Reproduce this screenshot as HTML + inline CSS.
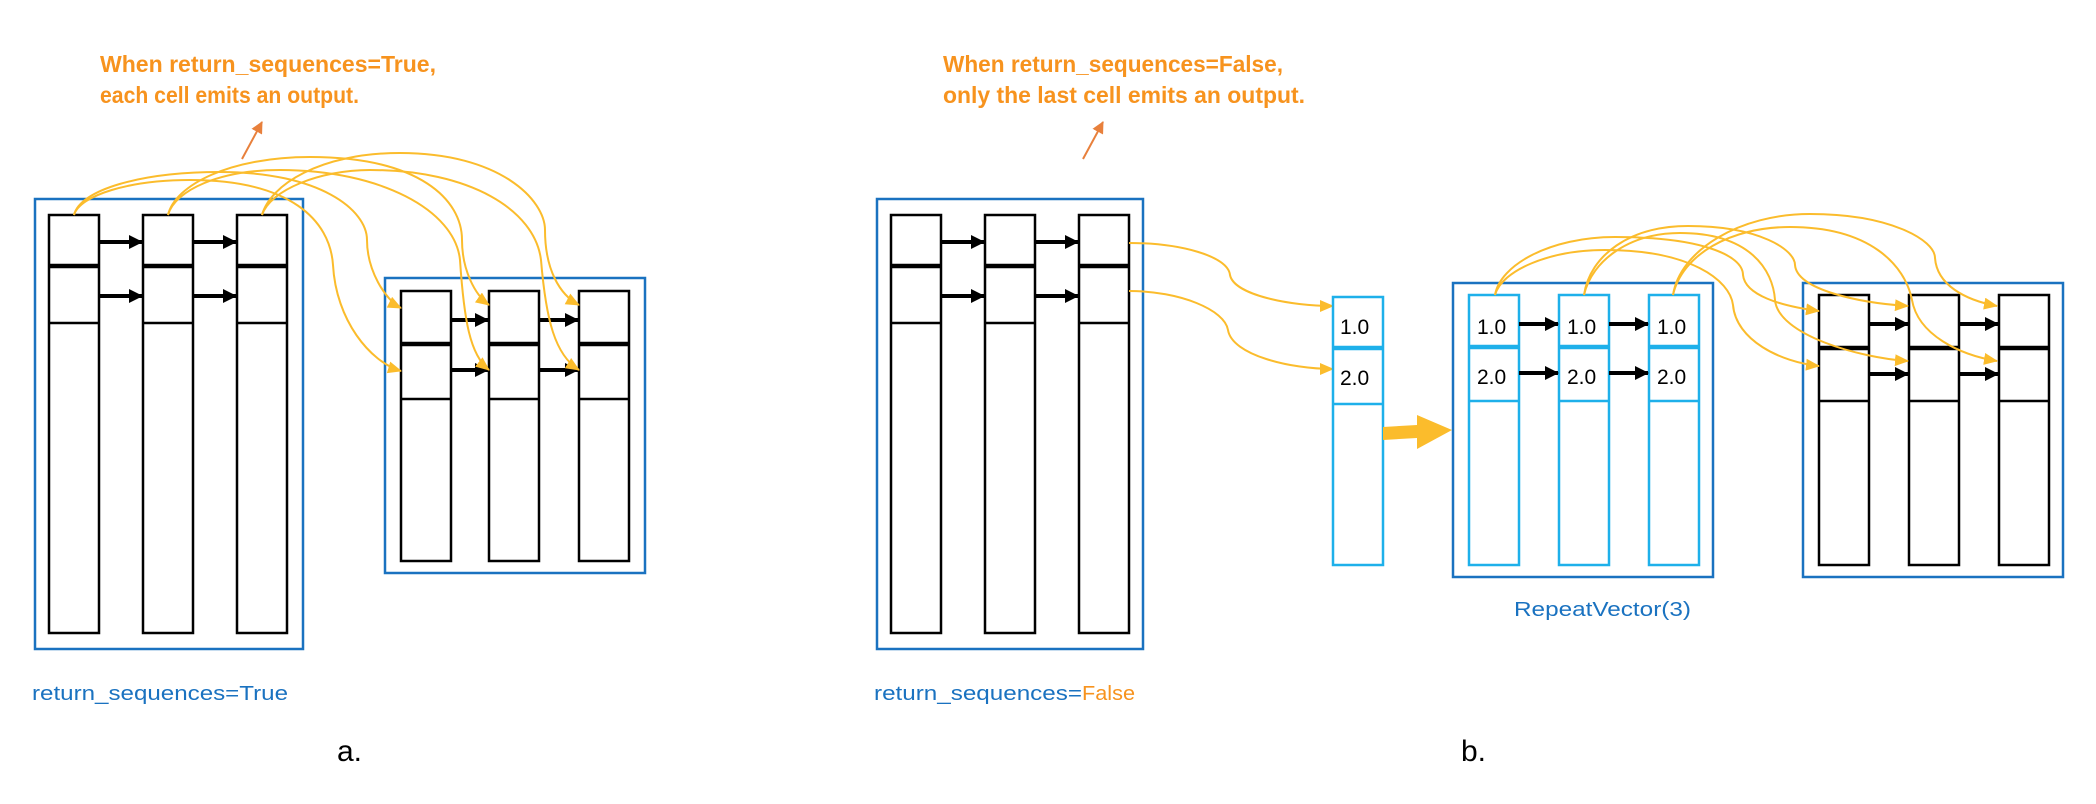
<!DOCTYPE html>
<html><head><meta charset="utf-8"><style>
html,body{margin:0;padding:0;background:#fff;}
svg{display:block;}
</style></head><body>
<svg width="2096" height="804" viewBox="0 0 2096 804" xmlns="http://www.w3.org/2000/svg">
<defs>
<marker id="ya" viewBox="0 0 14 12" refX="13" refY="6" markerWidth="14" markerHeight="12" markerUnits="userSpaceOnUse" orient="auto"><path d="M0,0 L14,6 L0,12 z" fill="#fbbc2c"/></marker>
<marker id="ba" viewBox="0 0 14 14" refX="13" refY="7" markerWidth="14" markerHeight="14" markerUnits="userSpaceOnUse" orient="auto"><path d="M0,0 L14,7 L0,14 z" fill="#000"/></marker>
<marker id="oa" viewBox="0 0 12 12" refX="11" refY="6" markerWidth="12" markerHeight="12" markerUnits="userSpaceOnUse" orient="auto"><path d="M0,0 L12,6 L0,12 z" fill="#e8803c"/></marker>
</defs>

<g font-family="Liberation Sans, sans-serif" font-weight="bold" font-size="23" fill="#f7931e">
<text x="100" y="72" textLength="336" lengthAdjust="spacingAndGlyphs">When return_sequences=True,</text>
<text x="100" y="103" textLength="259" lengthAdjust="spacingAndGlyphs">each cell emits an output.</text>
<text x="943" y="72" textLength="340" lengthAdjust="spacingAndGlyphs">When return_sequences=False,</text>
<text x="943" y="103" textLength="362" lengthAdjust="spacingAndGlyphs">only the last cell emits an output.</text>
</g>
<line x1="242" y1="159" x2="262" y2="122" stroke="#e8803c" stroke-width="2" marker-end="url(#oa)"/>
<line x1="1083" y1="159" x2="1103" y2="122" stroke="#e8803c" stroke-width="2" marker-end="url(#oa)"/>

<!-- panel a box1 -->
<g fill="none">
<rect x="35" y="199" width="268" height="450" stroke="#1a72c0" stroke-width="2.5"/>
<g stroke="#000" stroke-width="2.5">
<rect x="49" y="215" width="50" height="418"/><rect x="143" y="215" width="50" height="418"/><rect x="237" y="215" width="50" height="418"/>
<line x1="49" y1="323" x2="99" y2="323"/><line x1="143" y1="323" x2="193" y2="323"/><line x1="237" y1="323" x2="287" y2="323"/>
</g>
<g stroke="#000" stroke-width="4.5">
<line x1="49" y1="266" x2="99" y2="266"/><line x1="143" y1="266" x2="193" y2="266"/><line x1="237" y1="266" x2="287" y2="266"/>
</g>
<g stroke="#000" stroke-width="4" marker-end="url(#ba)">
<line x1="99" y1="242" x2="142" y2="242"/><line x1="193" y1="242" x2="236" y2="242"/>
<line x1="99" y1="296" x2="142" y2="296"/><line x1="193" y1="296" x2="236" y2="296"/>
</g>

<!-- panel a box2 -->
<rect x="385" y="278" width="260" height="295" stroke="#1a72c0" stroke-width="2.5"/>
<g stroke="#000" stroke-width="2.5">
<rect x="401" y="291" width="50" height="270"/><rect x="489" y="291" width="50" height="270"/><rect x="579" y="291" width="50" height="270"/>
<line x1="401" y1="399" x2="451" y2="399"/><line x1="489" y1="399" x2="539" y2="399"/><line x1="579" y1="399" x2="629" y2="399"/>
</g>
<g stroke="#000" stroke-width="4.5">
<line x1="401" y1="344" x2="451" y2="344"/><line x1="489" y1="344" x2="539" y2="344"/><line x1="579" y1="344" x2="629" y2="344"/>
</g>
<g stroke="#000" stroke-width="4" marker-end="url(#ba)">
<line x1="451" y1="320" x2="488" y2="320"/><line x1="539" y1="320" x2="578" y2="320"/>
<line x1="451" y1="370" x2="488" y2="370"/><line x1="539" y1="370" x2="578" y2="370"/>
</g>

<!-- panel a curves -->
<g stroke="#fbbc2c" stroke-width="2" marker-end="url(#ya)">
<path d="M74,215 C80,190 140,172 220,172 C320,172 367,210 367,240 C367,270 385,300 401,308"/>
<path d="M74,215 C80,195 130,180 190,180 C290,180 330,220 333,265 C336,320 370,362 401,371"/>
<path d="M168,215 C175,185 230,157 310,157 C420,157 462,200 462,240 C462,270 475,295 489,305"/>
<path d="M168,215 C175,190 220,170 280,170 C380,170 455,210 460,260 C464,320 470,355 489,370"/>
<path d="M262,215 C270,185 320,153 400,153 C500,153 545,200 545,230 C545,270 560,295 579,305"/>
<path d="M262,215 C270,190 320,170 370,170 C470,170 535,210 541,260 C546,320 555,355 579,370"/>
</g>

<!-- panel b box1 -->
<rect x="877" y="199" width="266" height="450" stroke="#1a72c0" stroke-width="2.5"/>
<g stroke="#000" stroke-width="2.5">
<rect x="891" y="215" width="50" height="418"/><rect x="985" y="215" width="50" height="418"/><rect x="1079" y="215" width="50" height="418"/>
<line x1="891" y1="323" x2="941" y2="323"/><line x1="985" y1="323" x2="1035" y2="323"/><line x1="1079" y1="323" x2="1129" y2="323"/>
</g>
<g stroke="#000" stroke-width="4.5">
<line x1="891" y1="266" x2="941" y2="266"/><line x1="985" y1="266" x2="1035" y2="266"/><line x1="1079" y1="266" x2="1129" y2="266"/>
</g>
<g stroke="#000" stroke-width="4" marker-end="url(#ba)">
<line x1="941" y1="242" x2="984" y2="242"/><line x1="1035" y1="242" x2="1078" y2="242"/>
<line x1="941" y1="296" x2="984" y2="296"/><line x1="1035" y1="296" x2="1078" y2="296"/>
</g>

<g stroke="#fbbc2c" stroke-width="2" marker-end="url(#ya)">
<path d="M1129,243 C1180,243 1228,256 1230,275 C1234,295 1290,306 1333,306"/>
<path d="M1129,291 C1180,291 1225,310 1228,330 C1232,355 1290,369 1333,369"/>
</g>

<!-- vector column -->
<rect x="1333" y="297" width="50" height="268" stroke="#1eb0ea" stroke-width="2.5"/>
<line x1="1333" y1="404" x2="1383" y2="404" stroke="#1eb0ea" stroke-width="2.5"/>
<line x1="1333" y1="348" x2="1383" y2="348" stroke="#1eb0ea" stroke-width="4.5"/>

<!-- big arrow -->
<path d="M1383,427 L1417,425 L1417,415 L1452,430 L1417,449 L1417,438 L1383,440 z" fill="#fbbc2c"/>

<!-- RepeatVector box -->
<rect x="1453" y="283" width="260" height="294" stroke="#1a72c0" stroke-width="2.5"/>
<g stroke="#1eb0ea" stroke-width="2.5">
<rect x="1469" y="295" width="50" height="270"/><rect x="1559" y="295" width="50" height="270"/><rect x="1649" y="295" width="50" height="270"/>
<line x1="1469" y1="401" x2="1519" y2="401"/><line x1="1559" y1="401" x2="1609" y2="401"/><line x1="1649" y1="401" x2="1699" y2="401"/>
</g>
<g stroke="#1eb0ea" stroke-width="4.5">
<line x1="1469" y1="347" x2="1519" y2="347"/><line x1="1559" y1="347" x2="1609" y2="347"/><line x1="1649" y1="347" x2="1699" y2="347"/>
</g>
<g stroke="#000" stroke-width="4" marker-end="url(#ba)">
<line x1="1519" y1="324" x2="1558" y2="324"/><line x1="1609" y1="324" x2="1648" y2="324"/>
<line x1="1519" y1="373" x2="1558" y2="373"/><line x1="1609" y1="373" x2="1648" y2="373"/>
</g>

<!-- third box -->
<rect x="1803" y="283" width="260" height="294" stroke="#1a72c0" stroke-width="2.5"/>
<g stroke="#000" stroke-width="2.5">
<rect x="1819" y="295" width="50" height="270"/><rect x="1909" y="295" width="50" height="270"/><rect x="1999" y="295" width="50" height="270"/>
<line x1="1819" y1="401" x2="1869" y2="401"/><line x1="1909" y1="401" x2="1959" y2="401"/><line x1="1999" y1="401" x2="2049" y2="401"/>
</g>
<g stroke="#000" stroke-width="4.5">
<line x1="1819" y1="348" x2="1869" y2="348"/><line x1="1909" y1="348" x2="1959" y2="348"/><line x1="1999" y1="348" x2="2049" y2="348"/>
</g>
<g stroke="#000" stroke-width="4" marker-end="url(#ba)">
<line x1="1869" y1="324" x2="1908" y2="324"/><line x1="1959" y1="324" x2="1998" y2="324"/>
<line x1="1869" y1="374" x2="1908" y2="374"/><line x1="1959" y1="374" x2="1998" y2="374"/>
</g>

<!-- RV curves -->
<g stroke="#fbbc2c" stroke-width="2" marker-end="url(#ya)">
<path d="M1495,295 C1500,265 1550,237 1615,237 C1700,237 1743,255 1743,275 C1745,295 1780,306 1819,311"/>
<path d="M1495,295 C1502,270 1550,250 1605,250 C1690,250 1730,280 1733,305 C1736,340 1780,362 1819,366"/>
<path d="M1584,295 C1590,255 1630,226 1688,226 C1760,226 1795,250 1795,265 C1797,290 1860,303 1908,306"/>
<path d="M1584,295 C1592,260 1630,233 1680,233 C1750,233 1773,270 1775,300 C1778,335 1860,358 1908,361"/>
<path d="M1673,295 C1680,250 1740,214 1810,214 C1890,214 1935,240 1935,258 C1937,285 1965,300 1997,306"/>
<path d="M1673,295 C1682,255 1730,227 1790,227 C1870,227 1905,265 1912,300 C1918,335 1960,355 1997,361"/>
</g>
</g>

<!-- numbers -->
<g font-family="Liberation Sans, sans-serif" font-size="21" fill="#000">
<text x="1340" y="334">1.0</text><text x="1340" y="385">2.0</text>
<text x="1477" y="334">1.0</text><text x="1477" y="384">2.0</text>
<text x="1567" y="334">1.0</text><text x="1567" y="384">2.0</text>
<text x="1657" y="334">1.0</text><text x="1657" y="384">2.0</text>
</g>

<!-- labels -->
<g font-family="Liberation Sans, sans-serif" font-size="20" fill="#1a72c0">
<text x="32" y="700" textLength="256" lengthAdjust="spacingAndGlyphs">return_sequences=True</text>
<text x="874" y="700" textLength="208" lengthAdjust="spacingAndGlyphs">return_sequences=</text>
<text x="1082" y="700" textLength="53" lengthAdjust="spacingAndGlyphs" fill="#f7931e">False</text>
<text x="1514" y="616" textLength="177" lengthAdjust="spacingAndGlyphs">RepeatVector(3)</text>
</g>
<g font-family="Liberation Sans, sans-serif" font-size="30" fill="#000">
<text x="337" y="761">a.</text>
<text x="1461" y="761">b.</text>
</g>
</svg>
</body></html>
